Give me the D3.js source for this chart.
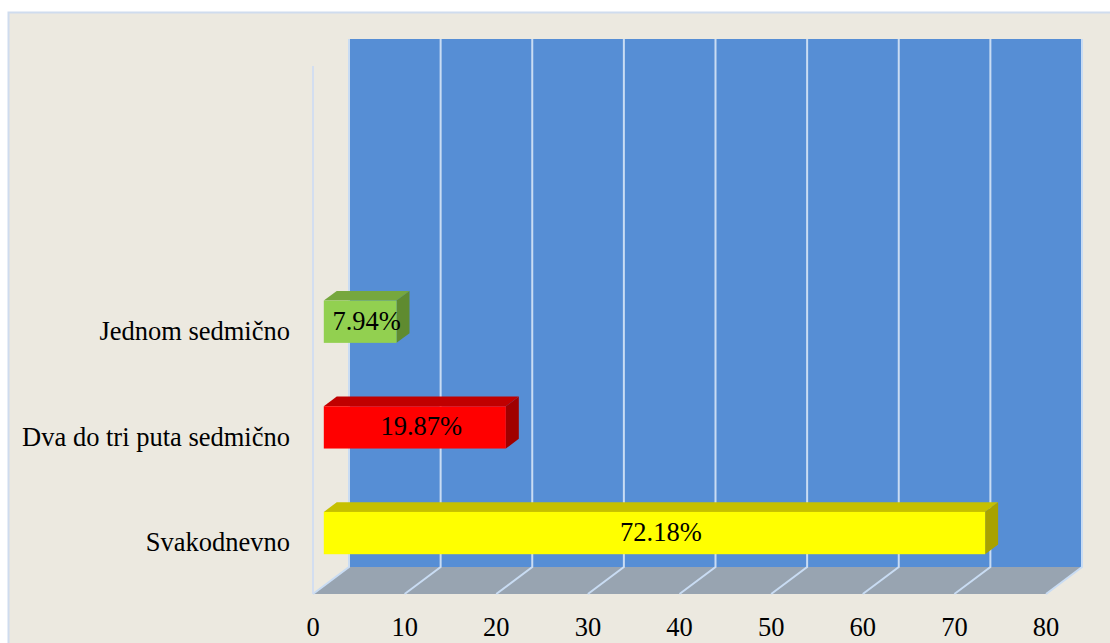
<!DOCTYPE html>
<html>
<head>
<meta charset="utf-8">
<script src="https://cdn.jsdelivr.net/npm/d3@7"></script>
<style>
  body { margin: 0; background: #fff; }
  text { font-family: "Liberation Serif", "Times New Roman", serif; fill: #000; }
</style>
</head>
<body>
<div id="chart"></div>
<script>
const categories = ["Jednom sedmično", "Dva do tri puta sedmično", "Svakodnevno"];
const values = [7.94, 19.87, 72.18];
const labels = ["7.94%", "19.87%", "72.18%"];
const ticks = [0, 10, 20, 30, 40, 50, 60, 70, 80];

const colors = [
  { front: "#92d050", top: "#76a73e", side: "#5f8b30" },
  { front: "#ff0000", top: "#c00000", side: "#a00000" },
  { front: "#ffff00", top: "#c6c000", side: "#a8a200" }
];

const width = 1110, height = 643;
const depthX = 36, depthY = 27;      // wall/floor depth offset
const barZ0 = 0.3, barZ1 = 0.66;     // bar depth span as share of depth
const fontSize = 26.5;

const svg = d3.select("#chart").append("svg")
  .attr("width", width).attr("height", height);

svg.append("rect").attr("x", 8.5).attr("y", 12.5)
  .attr("width", width).attr("height", height)
  .attr("fill", "#ece9e0").attr("stroke", "#cfdcee").attr("stroke-width", 2);

// front-plane scales
const x = d3.scaleLinear().domain([0, 80]).range([313, 1046]);
const y = d3.scaleBand().domain(categories).range([277, 594])
  .paddingInner(0.6).paddingOuter(0.3);
const plotTop = 66, plotBottom = 594;

// back wall
svg.append("rect")
  .attr("x", x(0) + depthX).attr("y", plotTop - depthY)
  .attr("width", x(80) - x(0)).attr("height", plotBottom - plotTop)
  .attr("fill", "#568ed5");

// floor
svg.append("path")
  .attr("d", `M${x(0)},${plotBottom}L${x(80)},${plotBottom}L${x(80) + depthX},${plotBottom - depthY}L${x(0) + depthX},${plotBottom - depthY}Z`)
  .attr("fill", "#98a4b1");

// gridlines on wall and floor
const grid = svg.append("g").attr("stroke", "#c9dcf3").attr("stroke-width", 2).attr("fill", "none");
ticks.forEach(t => {
  grid.append("path")
    .attr("d", `M${x(t) + depthX},${plotTop - depthY}L${x(t) + depthX},${plotBottom - depthY}L${x(t)},${plotBottom}`);
});

// left wall edge
svg.append("line")
  .attr("x1", x(0)).attr("x2", x(0)).attr("y1", plotTop).attr("y2", plotBottom)
  .attr("stroke", "#d3def0").attr("stroke-width", 2);

// bars
const bars = svg.append("g");
values.forEach((v, i) => {
  const c = colors[i];
  const ox = depthX * barZ0, oy = -depthY * barZ0;
  const dx = depthX * (barZ1 - barZ0), dy = -depthY * (barZ1 - barZ0);
  const x0 = x(0) + ox, x1 = x(v) + ox;
  const y0 = y(categories[i]) + oy, y1 = y0 + y.bandwidth();
  const g = bars.append("g");
  g.append("path")
    .attr("d", `M${x0},${y0}L${x0 + dx},${y0 + dy}L${x1 + dx},${y0 + dy}L${x1},${y0}Z`)
    .attr("fill", c.top);
  g.append("path")
    .attr("d", `M${x1},${y0}L${x1 + dx},${y0 + dy}L${x1 + dx},${y1 + dy}L${x1},${y1}Z`)
    .attr("fill", c.side);
  g.append("rect")
    .attr("x", x0).attr("y", y0).attr("width", x1 - x0).attr("height", y1 - y0)
    .attr("fill", c.front);
  g.append("text")
    .attr("x", (x0 + x1 + dx) / 2).attr("y", (y0 + y1) / 2 + 8)
    .attr("text-anchor", "middle").attr("font-size", fontSize)
    .text(labels[i]);
});

// category labels
svg.append("g").selectAll("text").data(categories).join("text")
  .attr("x", 290)
  .attr("y", d => y(d) + y.bandwidth() / 2 + 10)
  .attr("text-anchor", "end").attr("font-size", fontSize)
  .text(d => d);

// value axis labels
svg.append("g").selectAll("text").data(ticks).join("text")
  .attr("x", d => x(d))
  .attr("y", 636)
  .attr("text-anchor", "middle").attr("font-size", fontSize)
  .text(d => d);
</script>
</body>
</html>
